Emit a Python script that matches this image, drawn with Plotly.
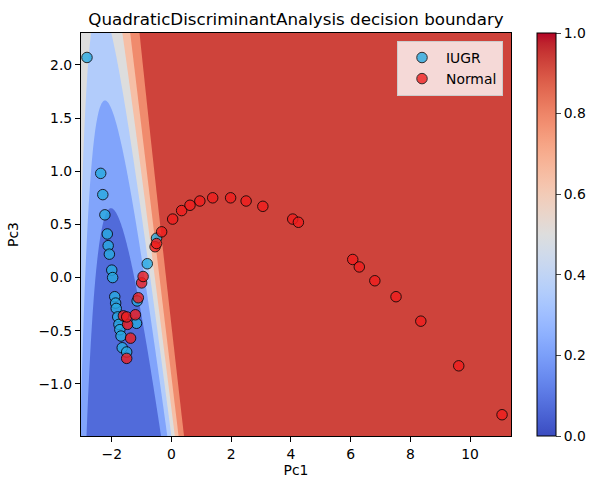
import numpy as np
import plotly.graph_objects as go

# ---------------- data ----------------
iugr_pc1 = [-2.83, -2.37, -2.30, -2.23, -2.15, -2.12, -2.08, -2.00, -1.97, -1.90, -1.87,
            -1.85, -1.80, -1.76, -1.73, -1.69, -1.65, -1.50, -1.17, -1.15, -0.81, -0.50]
iugr_pc3 = [2.07, 0.98, 0.78, 0.59, 0.41, 0.30, 0.22, 0.07, 0.00, -0.18, -0.24,
            -0.29, -0.37, -0.44, -0.49, -0.55, -0.66, -0.70, -0.43, -0.22, 0.13, 0.37]
normal_pc1 = [-1.50, -1.37, -1.47, -1.61, -1.50, -1.21, -1.11, -1.00, -0.95, -0.55, -0.50,
              -0.33, 0.04, 0.34, 0.62, 0.95, 1.38, 1.98, 2.50, 3.06, 4.06, 4.25, 6.07,
              6.29, 6.81, 7.52, 8.35, 9.62, 11.07]
normal_pc3 = [-0.76, -0.57, -0.44, -0.36, -0.37, -0.35, -0.19, -0.05, 0.01, 0.29, 0.32,
              0.43, 0.55, 0.63, 0.68, 0.72, 0.75, 0.75, 0.72, 0.67, 0.55, 0.52, 0.17,
              0.10, -0.03, -0.18, -0.41, -0.83, -1.29]
class_names = ["IUGR", "Normal"]

# positions (Pc1, Pc3) where the reference's probability bands change, and the level there
contour_pc1 = [-2.67, -1.84, -1.56, -1.33, -1.06,
               -2.17, -2.84, -1.75, -1.50, -1.28, -1.00,
               -2.34, -1.95,
               -2.62, -1.39, -1.11, -0.94, -0.78, -0.55,
               -2.86, -2.56,
               -2.00, -2.15, -1.82, -2.40, -1.63,
               -2.67, -1.10,
               -0.78, -0.61, -0.44, -0.30, -0.14, 0.06,
               -2.84, -0.32, -0.18, -0.05, 0.08, 0.25, 0.49]
contour_pc3 = [2.26, 2.26, 2.26, 2.26, 2.26,
               1.80, 1.80, 1.80, 1.80, 1.80, 1.80,
               1.61, 1.61,
               1.01, 1.01, 1.01, 1.01, 1.01, 1.01,
               0.92, 0.92,
               0.82, 0.71, 0.71, 0.51, 0.51,
               0.00, 0.00,
               -0.74, -0.74, -0.74, -0.74, -0.74, -0.74,
               -1.44, -1.44, -1.44, -1.44, -1.44, -1.44, -1.44]
contour_prob = [0.45, 0.45, 0.60, 0.75, 0.90,
                0.30, 0.45, 0.45, 0.60, 0.75, 0.90,
                0.30, 0.30,
                0.30, 0.30, 0.45, 0.60, 0.75, 0.90,
                0.45, 0.30,
                0.15, 0.15, 0.15, 0.15, 0.15,
                0.15, 0.15,
                0.15, 0.30, 0.45, 0.60, 0.75, 0.90,
                0.15, 0.15, 0.30, 0.45, 0.60, 0.75, 0.90]

level_edges = [0.0, 0.15, 0.30, 0.45, 0.60, 0.75, 0.90, 1.05]
cbar_ticks = [0.0, 0.2, 0.4, 0.6, 0.8, 1.0]
x_range = [-3.03, 11.37]
y_range = [-1.49, 2.30]

# ---------------- coolwarm (Moreland diverging map) ----------------
M_RGB2XYZ = np.array([[0.4124, 0.3576, 0.1805],
                      [0.2126, 0.7152, 0.0722],
                      [0.0193, 0.1192, 0.9505]])
WHITE = M_RGB2XYZ @ np.ones(3)


def _lin(c):
    c = np.asarray(c, float)
    return np.where(c <= 0.04045, c / 12.92, ((c + 0.055) / 1.055) ** 2.4)


def _gam(c):
    c = np.clip(c, 0, None)
    return np.where(c <= 0.0031308, 12.92 * c, 1.055 * np.power(c, 1 / 2.4) - 0.055)


def rgb2msh(rgb):
    xyz = M_RGB2XYZ @ _lin(rgb)
    t = xyz / WHITE
    f = np.where(t > 0.008856, np.cbrt(t), 7.787 * t + 16 / 116)
    L = 116 * f[1] - 16
    a = 500 * (f[0] - f[1])
    b = 200 * (f[1] - f[2])
    M = np.sqrt(L * L + a * a + b * b)
    return np.array([M, np.arccos(L / M), np.arctan2(b, a)])


def msh2rgb(msh):
    M, s, h = msh
    L = M * np.cos(s)
    a = M * np.sin(s) * np.cos(h)
    b = M * np.sin(s) * np.sin(h)
    fy = (L + 16) / 116
    fx = fy + a / 500
    fz = fy - b / 200

    def finv(f):
        return f ** 3 if f > 0.206893 else (f - 16 / 116) / 7.787
    xyz = np.array([finv(fx), finv(fy), finv(fz)]) * WHITE
    lin = np.linalg.solve(M_RGB2XYZ, xyz)
    return np.clip(_gam(lin), 0, 1)


def adjust_hue(msh, munsat):
    M, s, h = msh
    if M >= munsat:
        return h
    spin = s * np.sqrt(munsat ** 2 - M ** 2) / (M * np.sin(s))
    return h + spin if h > -np.pi / 3 else h - spin


C1 = np.array([59, 76, 192]) / 255
C2 = np.array([180, 4, 38]) / 255


def coolwarm(t):
    m1 = rgb2msh(C1)
    m2 = rgb2msh(C2)
    mmid = max(m1[0], m2[0], 88.0)
    if t < 0.5:
        m2 = np.array([mmid, 0.0, 0.0])
        t = 2 * t
    else:
        m1 = np.array([mmid, 0.0, 0.0])
        t = 2 * t - 1
    if m1[1] < 0.05 and m2[1] > 0.05:
        m1[2] = adjust_hue(m2, m1[0])
    elif m2[1] < 0.05 and m1[1] > 0.05:
        m2[2] = adjust_hue(m1, m2[0])
    rgb = msh2rgb((1 - t) * m1 + t * m2)
    r, g, b = (np.round(rgb * 255)).astype(int)
    return f"rgb({r},{g},{b})"


# ---------------- quadratic (QDA-type) log-odds fitted to the band positions ----------------
cx = np.array(contour_pc1)
cy = np.array(contour_pc3)
cp = np.array(contour_prob)


def design(x, y):
    return np.column_stack([x * x, x * y, y * y, x, y, np.ones_like(x)])


coef, *_ = np.linalg.lstsq(design(cx, cy), np.log(cp / (1 - cp)), rcond=None)

gx = np.linspace(x_range[0], x_range[1], 480)
gy = np.linspace(y_range[0], y_range[1], 160)
GX, GY = np.meshgrid(gx, gy)
logit = (design(GX.ravel(), GY.ravel()) @ coef).reshape(GX.shape)
P = 1 / (1 + np.exp(-np.clip(logit, -50, 50)))

# ---------------- colours ----------------
vmax = level_edges[-1]
band_mids = [(level_edges[i] + level_edges[i + 1]) / 2 for i in range(len(level_edges) - 1)]
band_colors = [coolwarm(m / vmax) for m in band_mids]
nb = len(band_colors)
band_scale = [[i / (nb - 1), c] for i, c in enumerate(band_colors)]
cont_scale = [[i / 40, coolwarm(i / 40)] for i in range(41)]
cs = level_edges[1] - level_edges[0]

fig = go.Figure()
fig.add_trace(go.Contour(
    x=gx, y=gy, z=P,
    contours=dict(start=level_edges[1], end=level_edges[-2] + 1e-6, size=cs,
                  coloring="fill", showlines=False),
    colorscale=band_scale, showscale=False, line=dict(width=0),
    hoverinfo="skip", showlegend=False,
))

fig.add_trace(go.Scatter(
    x=iugr_pc1, y=iugr_pc3, mode="markers", name=class_names[0],
    marker=dict(size=10.5, color="rgb(40,170,225)", opacity=0.8,
                line=dict(color="black", width=1)),
))
fig.add_trace(go.Scatter(
    x=normal_pc1, y=normal_pc3, mode="markers", name=class_names[1],
    marker=dict(size=10.5, color="rgb(240,30,30)", opacity=0.8,
                line=dict(color="black", width=1)),
))

# colour bar (continuous 0..1)
fig.add_trace(go.Scatter(
    x=[None], y=[None], mode="markers", showlegend=False, hoverinfo="skip",
    marker=dict(color=[0.0], colorscale=cont_scale, cmin=0, cmax=1, showscale=True,
                colorbar=dict(x=(537 - 81) / 430, xanchor="left", xref="paper",
                              y=0.5, yanchor="middle", len=1, lenmode="fraction",
                              thickness=19, xpad=0, ypad=0,
                              outlinewidth=1, outlinecolor="black",
                              ticks="outside", ticklen=5, tickwidth=1,
                              tickvals=cbar_ticks, tickformat=".1f",
                              tickfont=dict(size=13.9, color="black"))),
))

axis_common = dict(showline=True, linecolor="black", linewidth=1.1, mirror=True,
                   ticks="outside", ticklen=5, tickwidth=1.1, tickcolor="black",
                   showgrid=False, zeroline=False,
                   tickfont=dict(size=13.9, color="black"))

fig.update_layout(
    width=593, height=479,
    margin=dict(l=81, r=82, t=33, b=43, autoexpand=False),
    paper_bgcolor="white", plot_bgcolor="white",
    font=dict(family="DejaVu Sans", color="black"),
    title=dict(text="QuadraticDiscriminantAnalysis decision boundary",
               x=0.5, xanchor="center", xref="paper",
               y=1 - 13 / 479, yanchor="top", yref="container",
               font=dict(size=16.7, color="black")),
    xaxis=dict(range=x_range, title=dict(text="Pc1", font=dict(size=13.9), standoff=3),
               tickvals=[-2, 0, 2, 4, 6, 8, 10], **axis_common),
    yaxis=dict(range=y_range, title=dict(text="Pc3", font=dict(size=13.9), standoff=16),
               tickvals=[-1.0, -0.5, 0.0, 0.5, 1.0, 1.5, 2.0], tickformat=".1f",
               **axis_common),
    legend=dict(x=(503 - 81) / 430, y=1 - (41 - 33) / 403, xanchor="right", yanchor="top",
                bgcolor="rgba(255,255,255,0.8)", bordercolor="#cccccc", borderwidth=1,
                font=dict(size=13.9, color="black"), tracegroupgap=4,
                itemwidth=38),
)

fig.write_html("out.html", config={"displayModeBar": False},
               post_script="document.body.style.margin='0';document.body.style.overflow='hidden';")
